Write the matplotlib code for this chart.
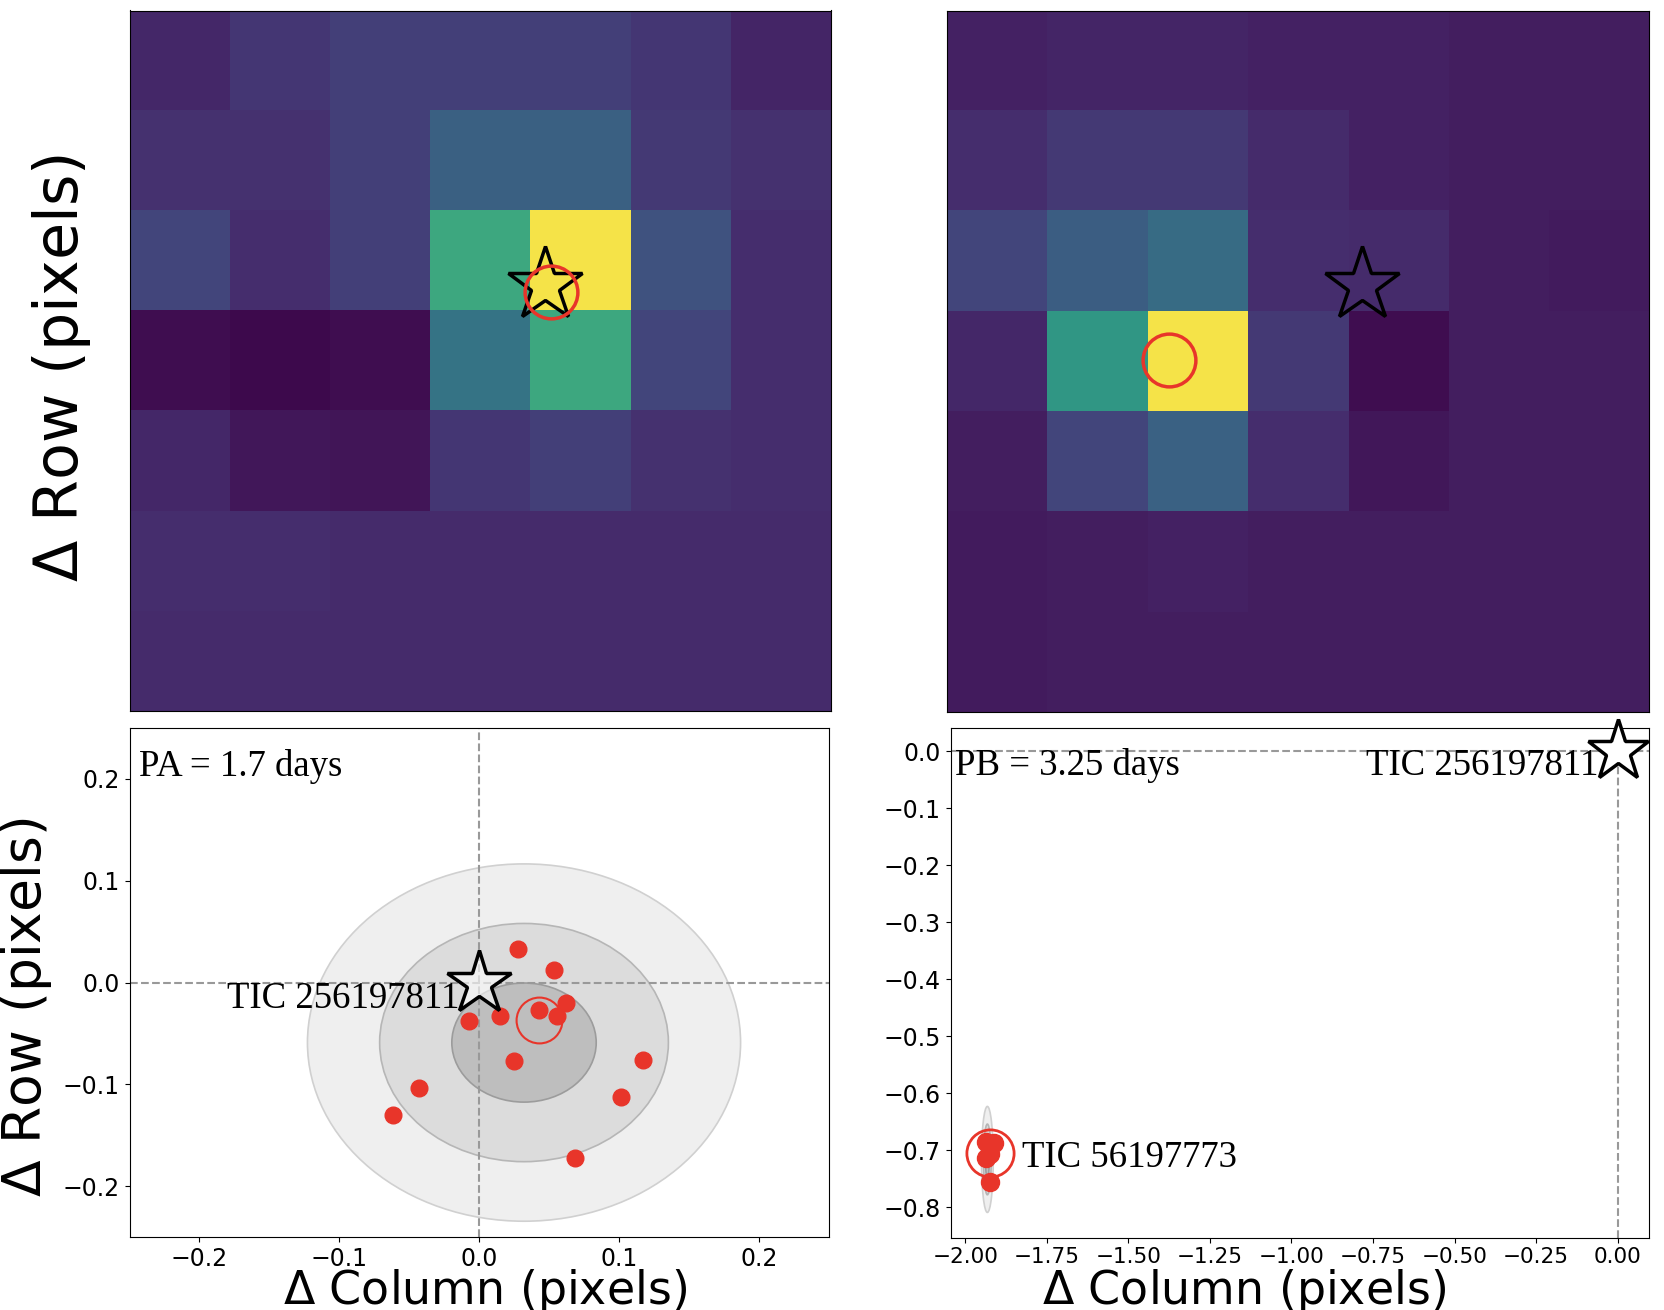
import numpy as np
import matplotlib
matplotlib.use('Agg')
import matplotlib.pyplot as plt
from matplotlib.patches import Ellipse
from matplotlib.colors import ListedColormap

# 7x7 pixel images (normalised flux), rows from top
img_a = np.array([
    [0.10, 0.15, 0.18, 0.18, 0.18, 0.15, 0.09],
    [0.13, 0.13, 0.18, 0.31, 0.31, 0.16, 0.13],
    [0.20, 0.12, 0.18, 0.64, 1.00, 0.25, 0.12],
    [0.02, 0.01, 0.02, 0.40, 0.64, 0.20, 0.12],
    [0.10, 0.05, 0.04, 0.15, 0.18, 0.13, 0.12],
    [0.12, 0.12, 0.11, 0.11, 0.11, 0.11, 0.11],
    [0.11, 0.11, 0.11, 0.11, 0.11, 0.11, 0.11],
])
img_b = np.array([
    [0.08, 0.09, 0.09, 0.08, 0.08, 0.07, 0.07],
    [0.12, 0.16, 0.16, 0.11, 0.08, 0.07, 0.07],
    [0.20, 0.30, 0.36, 0.12, 0.11, 0.07, 0.06],
    [0.10, 0.56, 1.00, 0.16, 0.02, 0.07, 0.07],
    [0.07, 0.20, 0.32, 0.12, 0.05, 0.07, 0.07],
    [0.06, 0.07, 0.08, 0.07, 0.07, 0.07, 0.07],
    [0.06, 0.07, 0.07, 0.07, 0.07, 0.07, 0.07],
])
target_pix = (3.64, 2.24)      # TIC 256197811 in pixel coords
centroid_a_pix = (3.70, 2.31)
centroid_b_pix = (1.71, 2.99)

# centroid offsets per transit (pixels)
pa_col = [0.0275, 0.0535, 0.062, 0.043, 0.0555, 0.0145, -0.0076, 0.0245,
          0.117, 0.101, -0.043, -0.062, 0.0685]
pa_row = [0.0325, 0.0122, -0.020, -0.027, -0.033, -0.0325, -0.0377, -0.077,
          -0.0765, -0.112, -0.104, -0.130, -0.1726]
pa_mean = (0.043, -0.037)
pa_ell_center = (0.032, -0.059)
pa_sigma = (0.0516, 0.0585)

pb_col = [-1.9365, -1.913, -1.923, -1.935, -1.923]
pb_row = [-0.685, -0.688, -0.706, -0.713, -0.756]
pb_mean = (-1.925, -0.705)
pb_ell_center = (-1.932, -0.716)
pb_sigma = (0.006, 0.031)

red = '#e8352a'
serif = 'Liberation Serif'
W, H = 1664, 1310

# slightly washed-out viridis, like the scanned figure
vc = plt.get_cmap('viridis')(np.linspace(0, 1, 256))[:, :3]
lum = (vc @ np.array([0.299, 0.587, 0.114]))[:, None]
cmap = ListedColormap(0.8 * vc + 0.2 * lum)

fig = plt.figure(figsize=(W / 100, H / 100), dpi=100)


def box(l, t, r, b):
    return [l / W, 1 - b / H, (r - l) / W, (b - t) / H]


def minus(s):
    return s.replace('-', '\u2212')


def image_panel(rect, img, circ):
    ax = fig.add_axes(rect)
    ax.imshow(img, cmap=cmap, vmin=0, vmax=1, aspect='auto',
              interpolation='nearest')
    ax.plot(*target_pix, marker='*', ms=56, mfc='none', mec='k', mew=2.5)
    ax.plot(*circ, marker='o', ms=38, mfc='none', mec=red, mew=2.5)
    ax.set_xticks([])
    ax.set_yticks([])
    return ax


image_panel(box(130, 10.5, 831, 711), img_a, centroid_a_pix)
image_panel(box(947, 10.5, 1649, 712), img_b, centroid_b_pix)


def ellipses(ax, c, s):
    for k, fc, ec in zip([3, 2, 1], ['#efefef', '#dcdcdc', '#bebebe'],
                         ['#d0d0d0', '#b6b6b6', '#9c9c9c']):
        e = Ellipse(c, 2 * k * s[0], 2 * k * s[1], facecolor=fc,
                    edgecolor=ec, lw=1.2, zorder=1)
        ax.add_patch(e)


# bottom left: PA
ax = fig.add_axes(box(129.5, 728, 829, 1237))
ellipses(ax, pa_ell_center, pa_sigma)
ax.axhline(0, color='#999999', ls='--', lw=1.5, zorder=2)
ax.axvline(0, color='#999999', ls='--', lw=1.5, zorder=2)
ax.plot(pa_col, pa_row, 'o', color=red, ms=12, zorder=4)
ax.plot(*pa_mean, marker='o', ms=33, mfc='none', mec=red, mew=1.5, zorder=4)
ax.plot(0, 0, marker='*', ms=48, mfc=(1, 1, 1, 0.6), mec='k', mew=2.5,
        zorder=5)
ax.annotate('TIC 256197811', (0, 0), xytext=(-14, -12),
            textcoords='offset points', ha='right', va='center',
            fontsize=26.5, family=serif, zorder=6)
ax.text(0.014, 0.925, 'PA = 1.7 days', transform=ax.transAxes,
        fontsize=26.5, family=serif, va='center')
ax.set_xlim(-0.25, 0.25)
ax.set_ylim(-0.25, 0.25)
ax.set_xticks([-0.2, -0.1, 0.0, 0.1, 0.2])
ax.set_yticks([-0.2, -0.1, 0.0, 0.1, 0.2])
ax.tick_params(labelsize=17)

# bottom right: PB
ax = fig.add_axes(box(950.5, 727.5, 1649, 1237.5))
ellipses(ax, pb_ell_center, pb_sigma)
ax.axhline(0, color='#999999', ls='--', lw=1.5, zorder=2)
ax.axvline(0, color='#999999', ls='--', lw=1.5, zorder=2)
ax.plot(pb_col, pb_row, 'o', color=red, ms=13, zorder=4)
ax.plot(*pb_mean, marker='o', ms=34, mfc='none', mec=red, mew=2, zorder=4)
ax.plot(0, 0, marker='*', ms=46, mfc='white', mec='k', mew=2.5, zorder=5,
        clip_on=False)
ax.annotate('TIC 256197811', (0, 0), xytext=(-14, -10),
            textcoords='offset points', ha='right', va='center',
            fontsize=26.5, family=serif, zorder=6)
ax.annotate('TIC 56197773', pb_mean, xytext=(23, -3),
            textcoords='offset points', ha='left', va='center',
            fontsize=26.5, family=serif, zorder=6)
ax.text(0.006, 0.925, 'PB = 3.25 days', transform=ax.transAxes,
        fontsize=26.5, family=serif, va='center')
ax.set_xlim(-2.045, 0.096)
ax.set_ylim(-0.853, 0.042)
xt = np.arange(-2.0, 0.01, 0.25)
yt = np.round(np.arange(-0.8, 0.01, 0.1), 1)
ax.set_xticks(xt)
ax.set_xticklabels([minus('%.2f' % v) for v in xt])
ax.set_yticks(yt)
ax.set_yticklabels([minus('%.1f' % v) if v != 0 else '0.0' for v in yt])
ax.tick_params(axis='y', labelsize=17)
ax.tick_params(axis='x', labelsize=15.5)

# axis labels (the bottom ones run off the figure edge as in the original)
fig.text(62 / W, 1 - 368 / H, r'$\Delta$ Row (pixels)', rotation=90,
         ha='center', va='center', fontsize=43.5)
fig.text(26 / W, 1 - 1007 / H, r'$\Delta$ Row (pixels)', rotation=90,
         ha='center', va='center', fontsize=38.5)
fig.text(485 / W, 1 - 1304 / H, r'$\Delta$ Column (pixels)',
         ha='center', va='baseline', fontsize=33)
fig.text(1244 / W, 1 - 1304 / H, r'$\Delta$ Column (pixels)',
         ha='center', va='baseline', fontsize=33)

fig.savefig('out.png', dpi=100)
